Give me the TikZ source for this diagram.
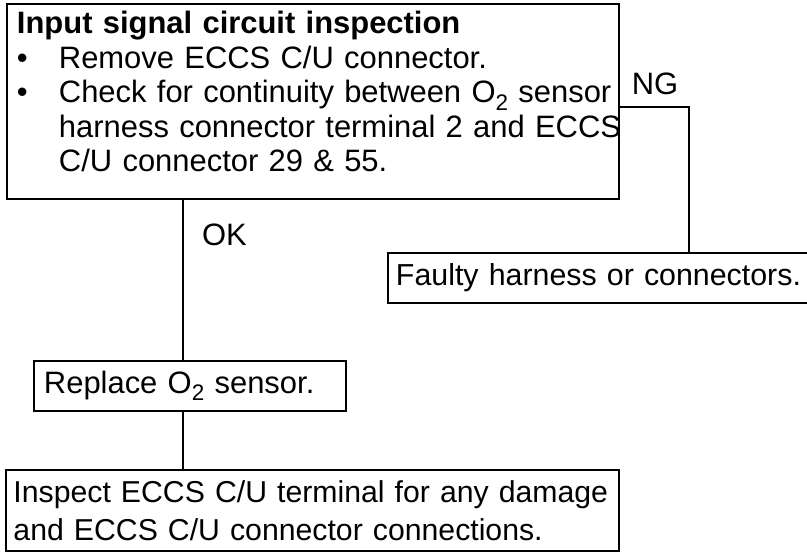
\documentclass[tikz,border=0pt]{standalone}
\usepackage{fontspec}
\setmainfont{Liberation Sans}
\usetikzlibrary{positioning}
\newcommand{\osub}[1]{\raisebox{-0.45ex}{\fontsize{16}{16}\selectfont #1}}
\tikzset{
  stepbox/.style={draw, line width=1.4pt, anchor=north west, align=left,
    inner xsep=0.25cm, inner ysep=0pt, font=\fontsize{22}{24.5}\selectfont},
  link/.style={draw, line width=1.2pt},
  lbl/.style={font=\fontsize{22}{24.5}\selectfont, inner sep=0pt}
}
\begin{document}
\begin{tikzpicture}
\useasboundingbox (0,0) rectangle (20.175,13.8);
% boxes
\node[stepbox, minimum width=15.3cm, minimum height=4.875cm, text width=14.8cm] (check) at (0.15,13.725) {%
\begin{tabular}{@{}p{1.05cm}@{}l@{}}
\multicolumn{2}{@{}l@{}}{\textbf{Input signal circuit inspection}}\\
\textbullet & Remove ECCS C/U connector.\\
\textbullet & Check for continuity between O\osub{2} sensor\\
 & harness connector terminal 2 and ECCS\\
 & C/U connector 29 \& 55.\\[8pt]
\end{tabular}};
\node[stepbox, inner xsep=0.2cm, minimum width=11cm, minimum height=1.25cm, text width=10.6cm,
  font=\fontsize{21.6}{24.5}\selectfont] (faulty) at (9.675,7.5) {Faulty harness or connectors.};
\node[stepbox, minimum width=7.8cm, minimum height=1.25cm, text width=7.3cm] (replace) at (0.825,4.8) {Replace O\osub{2} sensor.};
\node[stepbox, inner xsep=0.175cm, minimum width=15.325cm, minimum height=2.025cm, text width=14.95cm,
  font=\fontsize{21.5}{27}\selectfont] (inspect) at (0.125,2.075) {Inspect ECCS C/U terminal for any damage\\and ECCS C/U connector connections.};
% connectors
\coordinate (okx) at (4.575,0);
\coordinate (ngx) at (17.225,11.125);
\draw[link] (check.south -| okx) -- (replace.north -| okx);
\draw[link] (replace.south -| okx) -- (inspect.north -| okx);
\draw[link] (check.east |- ngx) -- (ngx) -- (faulty.north -| ngx);
% labels
\node[lbl] (ok) at (5.61,7.925) {OK};
\node[lbl] (ng) at (16.375,11.7) {NG};
\end{tikzpicture}
\end{document}
